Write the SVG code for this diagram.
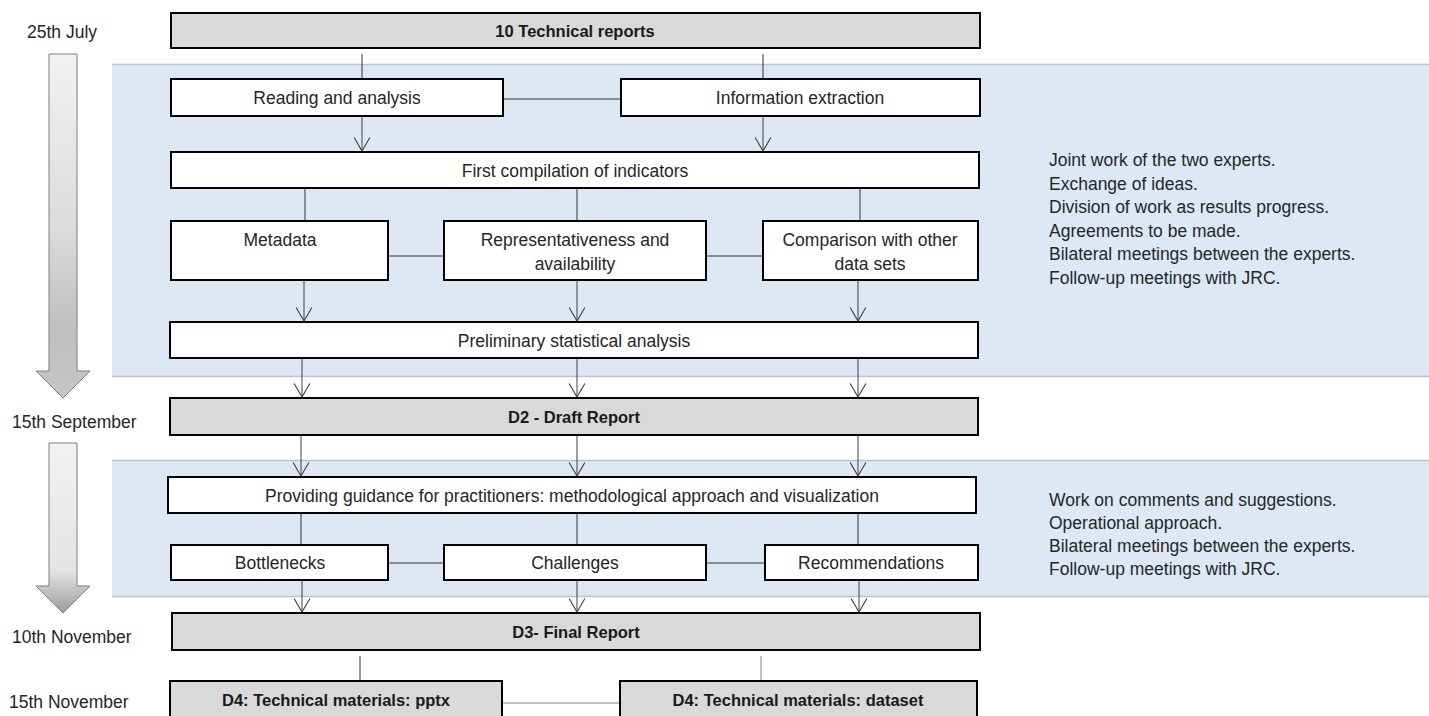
<svg xmlns="http://www.w3.org/2000/svg" width="1429" height="716" viewBox="0 0 1429 716">
<defs>
<linearGradient id="g1" x1="0" y1="0" x2="0" y2="1">
<stop offset="0" stop-color="#f2f2f2"/>
<stop offset="0.5" stop-color="#dcdcdc"/>
<stop offset="0.8" stop-color="#bfbfbf"/>
<stop offset="1" stop-color="#c6c6c6"/>
</linearGradient>
<linearGradient id="g2" x1="0" y1="0" x2="0" y2="1">
<stop offset="0" stop-color="#f2f2f2"/>
<stop offset="0.75" stop-color="#e4e4e4"/>
<stop offset="1" stop-color="#9c9c9c"/>
</linearGradient>
<marker id="ah" markerUnits="userSpaceOnUse" markerWidth="16" markerHeight="18" refX="13" refY="8" orient="auto" viewBox="0 0 14 16">
<path d="M1,1 L13,8 L1,15" fill="none" stroke="#404040" stroke-width="1"/>
</marker>
<style>
.band{fill:#dde8f4}
.bl{stroke:#b9c4cf;stroke-width:1.5}
.box{fill:#ffffff;stroke:#000000;stroke-width:2}
.gbox{fill:#d9d9d9;stroke:#000000;stroke-width:2}
.t{font-family:"Liberation Sans",Arial,sans-serif;font-size:17.5px;fill:#262626}
.c{text-anchor:middle}
.b{font-weight:bold;font-size:16.5px;fill:#1a1a1a}
.ln{stroke:#333333;stroke-width:1;fill:none}
.lg{stroke:#7f7f7f;stroke-width:1;fill:none}
.ar{stroke:#404040;stroke-width:1;fill:none;marker-end:url(#ah)}
.tl{stroke:#7f7f7f;stroke-width:1}
</style>
</defs>
<rect width="1429" height="716" fill="#ffffff"/>
<g id="bands">
<rect class="band" x="112" y="64" width="1317" height="313"/>
<line class="bl" x1="112" y1="64.5" x2="1429" y2="64.5"/>
<line class="bl" x1="112" y1="376.5" x2="1429" y2="376.5"/>
<rect class="band" x="112" y="460" width="1317" height="137"/>
<line class="bl" x1="112" y1="460.5" x2="1429" y2="460.5"/>
<line class="bl" x1="112" y1="596.5" x2="1429" y2="596.5"/>
</g>
<g id="timeline">
<path class="tl" fill="url(#g1)" d="M49,54 L77,54 L77,371 L90,371 L63,398 L36,371 L49,371 Z"/>
<path class="tl" fill="url(#g2)" d="M49,443 L77,443 L77,586 L90,586 L63,613 L36,586 L49,586 Z"/>
<text class="t" x="27" y="38">25th July</text>
<text class="t" x="12" y="428">15th September</text>
<text class="t" x="12" y="643">10th November</text>
<text class="t" x="9" y="708">15th November</text>
</g>
<g id="connectors">
<line class="ln" x1="362" y1="54" x2="362" y2="78"/>
<line class="ln" x1="763" y1="54" x2="763" y2="78"/>
<line class="ln" x1="504" y1="99" x2="620" y2="99"/>
<line class="ar" x1="362" y1="117" x2="362" y2="151"/>
<line class="ar" x1="763" y1="117" x2="763" y2="151"/>
<line class="ln" x1="305" y1="189" x2="305" y2="221"/>
<line class="ln" x1="577" y1="189" x2="577" y2="221"/>
<line class="ln" x1="860" y1="189" x2="860" y2="221"/>
<line class="ln" x1="389" y1="256" x2="443" y2="256"/>
<line class="ln" x1="707" y1="256" x2="762" y2="256"/>
<line class="ar" x1="304" y1="281" x2="304" y2="321"/>
<line class="ar" x1="577" y1="281" x2="577" y2="321"/>
<line class="ar" x1="858" y1="281" x2="858" y2="321"/>
<line class="ar" x1="302" y1="359" x2="302" y2="397"/>
<line class="ar" x1="577" y1="359" x2="577" y2="397"/>
<line class="ar" x1="858" y1="359" x2="858" y2="397"/>
<line class="ar" x1="301" y1="436" x2="301" y2="476"/>
<line class="ar" x1="577" y1="436" x2="577" y2="476"/>
<line class="ar" x1="858" y1="436" x2="858" y2="476"/>
<line class="ln" x1="301" y1="514" x2="301" y2="545"/>
<line class="ln" x1="577" y1="514" x2="577" y2="545"/>
<line class="ln" x1="858" y1="514" x2="858" y2="545"/>
<line class="ln" x1="389" y1="563" x2="443" y2="563"/>
<line class="ln" x1="707" y1="563" x2="764" y2="563"/>
<line class="ar" x1="302" y1="581" x2="302" y2="612"/>
<line class="ar" x1="577" y1="581" x2="577" y2="612"/>
<line class="ar" x1="859" y1="581" x2="859" y2="612"/>
<line class="ln" x1="360" y1="656" x2="360" y2="681"/>
<line class="lg" x1="761" y1="656" x2="761" y2="681"/>
<line class="lg" x1="503" y1="703" x2="619" y2="703"/>
</g>
<g id="n-tech-reports">
<rect class="gbox" x="171" y="13" width="809" height="35"/>
<text class="t c b" x="575" y="37">10 Technical reports</text>
</g>
<g id="n-reading">
<rect class="box" x="171" y="79" width="332" height="37"/>
<text class="t c" x="337" y="104">Reading and analysis</text>
</g>
<g id="n-info">
<rect class="box" x="621" y="79" width="359" height="37"/>
<text class="t c" x="800" y="104">Information extraction</text>
</g>
<g id="n-first">
<rect class="box" x="171" y="152" width="808" height="36"/>
<text class="t c" x="575" y="177">First compilation of indicators</text>
</g>
<g id="n-metadata">
<rect class="box" x="171" y="221" width="217" height="59"/>
<text class="t c" x="280" y="246">Metadata</text>
</g>
<g id="n-repr">
<rect class="box" x="444" y="221" width="262" height="59"/>
<text class="t c" x="575" y="246">Representativeness and</text>
<text class="t c" x="575" y="270">availability</text>
</g>
<g id="n-comp">
<rect class="box" x="763" y="221" width="215" height="59"/>
<text class="t c" x="870" y="246">Comparison with other</text>
<text class="t c" x="870" y="270">data sets</text>
</g>
<g id="n-prelim">
<rect class="box" x="170" y="322" width="808" height="36"/>
<text class="t c" x="574" y="347">Preliminary statistical analysis</text>
</g>
<g id="n-d2">
<rect class="gbox" x="170" y="398" width="808" height="37"/>
<text class="t c b" x="574" y="423">D2 - Draft Report</text>
</g>
<g id="n-guidance">
<rect class="box" x="168" y="477" width="808" height="36"/>
<text class="t c" x="572" y="502">Providing guidance for practitioners: methodological approach and visualization</text>
</g>
<g id="n-bottlenecks">
<rect class="box" x="171" y="545" width="217" height="35"/>
<text class="t c" x="280" y="569">Bottlenecks</text>
</g>
<g id="n-challenges">
<rect class="box" x="444" y="545" width="262" height="35"/>
<text class="t c" x="575" y="569">Challenges</text>
</g>
<g id="n-recommendations">
<rect class="box" x="765" y="545" width="213" height="35"/>
<text class="t c" x="871" y="569">Recommendations</text>
</g>
<g id="n-d3">
<rect class="gbox" x="172" y="613" width="808" height="37"/>
<text class="t c b" x="576" y="638">D3- Final Report</text>
</g>
<g id="n-d4-pptx">
<rect class="gbox" x="170" y="681" width="332" height="36"/>
<text class="t c b" x="336" y="706">D4: Technical materials: pptx</text>
</g>
<g id="n-d4-dataset">
<rect class="gbox" x="620" y="681" width="357" height="36"/>
<text class="t c b" x="798" y="706">D4: Technical materials: dataset</text>
</g>
<g id="notes">
<text class="t" x="1049" y="166">Joint work of the two experts.</text>
<text class="t" x="1049" y="189.5">Exchange of ideas.</text>
<text class="t" x="1049" y="213">Division of work as results progress.</text>
<text class="t" x="1049" y="236.5">Agreements to be made.</text>
<text class="t" x="1049" y="260">Bilateral meetings between the experts.</text>
<text class="t" x="1049" y="283.5">Follow-up meetings with JRC.</text>
<text class="t" x="1049" y="506">Work on comments and suggestions.</text>
<text class="t" x="1049" y="529">Operational approach.</text>
<text class="t" x="1049" y="552">Bilateral meetings between the experts.</text>
<text class="t" x="1049" y="575">Follow-up meetings with JRC.</text>
</g>
</svg>
